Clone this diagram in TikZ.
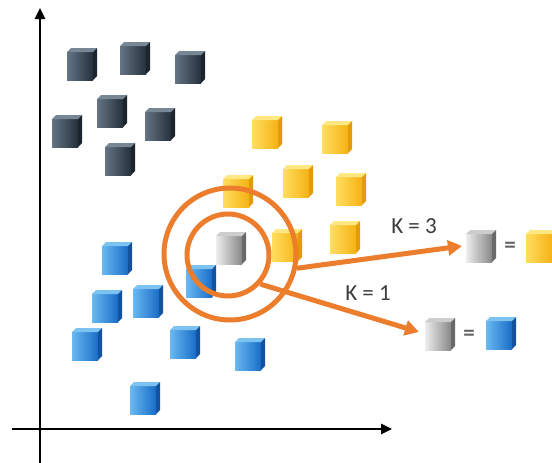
\documentclass[tikz,border=0pt]{standalone}
\usepackage{fontspec}
\setmainfont{Carlito}
\usetikzlibrary{arrows.meta}

% cube palettes: front-left, front-right, top, side
\definecolor{dkL}{RGB}{100,116,132}
\definecolor{dkR}{RGB}{38,48,60}
\definecolor{dkT}{RGB}{120,135,150}
\definecolor{dkS}{RGB}{28,36,46}
\definecolor{yeL}{RGB}{255,222,95}
\definecolor{yeR}{RGB}{245,178,20}
\definecolor{yeT}{RGB}{255,232,130}
\definecolor{yeS}{RGB}{228,155,10}
\definecolor{blL}{RGB}{105,185,242}
\definecolor{blR}{RGB}{25,108,198}
\definecolor{blT}{RGB}{125,195,242}
\definecolor{blS}{RGB}{18,82,158}
\definecolor{grL}{RGB}{238,238,238}
\definecolor{grR}{RGB}{135,135,135}
\definecolor{grT}{RGB}{205,205,205}
\definecolor{grS}{RGB}{105,105,105}
\definecolor{ring}{RGB}{235,125,45}
\definecolor{txt}{RGB}{60,60,60}

\tikzset{
  pics/cube/.style n args={4}{code={
    \shade[left color=#1,right color=#2] (-15,-12) rectangle (11,16);
    \fill[#3] (-15,-12) -- (-11,-16) -- (15,-16) -- (11,-12) -- cycle;
    \fill[#4] (11,-12) -- (15,-16) -- (15,12) -- (11,16) -- cycle;
  }},
  pics/darkcube/.style={code={\pic{cube={dkL}{dkR}{dkT}{dkS}};}},
  pics/yellowcube/.style={code={\pic{cube={yeL}{yeR}{yeT}{yeS}};}},
  pics/bluecube/.style={code={\pic{cube={blL}{blR}{blT}{blS}};}},
  pics/graycube/.style={code={\pic{cube={grL}{grR}{grT}{grS}};}},
  axis/.style={line width=2.5pt,black,-{Triangle[length=11pt,width=10pt]}},
  ringcircle/.style={circle,draw=ring,line width=5pt,inner sep=0pt},
  ringarrow/.style={ring,line width=5pt,-{Triangle[length=14pt,width=15pt]}},
  lbl/.style={font=\fontsize{23}{26}\selectfont,text=txt,inner sep=0pt},
  eqsign/.style={font=\bfseries\fontsize{23}{26}\selectfont,text=txt!80,inner sep=0pt},
}

\begin{document}
\begin{tikzpicture}[x=1pt,y=-1pt]
  \useasboundingbox (0,0) rectangle (552,463);

  % axes
  \coordinate (ybot) at (40,463);
  \coordinate (ytop) at (40,8);
  \coordinate (xlft) at (12,429);
  \coordinate (xrgt) at (392,429);
  \draw[axis] (ybot) -- (ytop);
  \draw[axis] (xlft) -- (xrgt);

  % dark class
  \pic at (82,64)  {darkcube};
  \pic at (135,58) {darkcube};
  \pic at (190,67) {darkcube};
  \pic at (112,111) {darkcube};
  \pic at (67,131) {darkcube};
  \pic at (160,124) {darkcube};
  \pic at (120,159) {darkcube};

  % yellow class
  \pic at (267,132) {yellowcube};
  \pic at (337,137) {yellowcube};
  \pic at (298,181) {yellowcube};
  \pic at (351,189) {yellowcube};
  \pic at (238,191) {yellowcube};
  \pic at (345,237) {yellowcube};
  \pic at (287,245) {yellowcube};

  % blue class
  \pic at (117,258) {bluecube};
  \pic at (201,281) {bluecube};
  \pic at (107,306) {bluecube};
  \pic at (148,301) {bluecube};
  \pic at (87,344)  {bluecube};
  \pic at (185,342) {bluecube};
  \pic at (250,354) {bluecube};
  \pic at (145,398) {bluecube};

  % query point
  \pic at (231,248) {graycube};

  % neighbourhoods
  \node[ringcircle,minimum size=82pt] (inner) at (228,255) {};
  \node[ringcircle,minimum size=132pt] (outer) at (230,254) {};

  % results
  \pic at (481,246) {graycube};
  \node[eqsign] (eq3) at (510,247) {=};
  \pic at (541,246) {yellowcube};
  \pic at (440,334) {graycube};
  \node[eqsign] (eq1) at (469,335) {=};
  \pic at (501,333) {bluecube};

  \coordinate (tip3) at (462,246);
  \coordinate (tip1) at (419,332);
  \draw[ringarrow] (outer.-12) -- (tip3);
  \draw[ringarrow] (inner.-42) -- (tip1);

  \node[lbl] (k3) at (414,226) {K = 3};
  \node[lbl] (k1) at (368,293) {K = 1};
\end{tikzpicture}
\end{document}
